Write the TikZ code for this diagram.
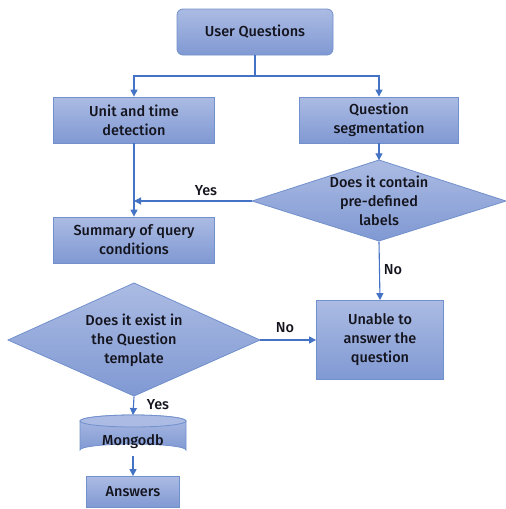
\documentclass[tikz,border=0pt]{standalone}
\usepackage{fontspec}
\setmainfont{Fira Sans}[UprightFont=* Medium]
\usetikzlibrary{arrows.meta,shapes.geometric}
\definecolor{ftop}{RGB}{171,187,227}
\definecolor{fbot}{RGB}{128,153,211}
\definecolor{bord}{RGB}{114,144,204}
\definecolor{lnk}{RGB}{68,114,196}
\definecolor{txt}{RGB}{20,20,30}
\tikzset{
  base/.style={draw=bord, line width=0.8pt, top color=ftop, bottom color=fbot, align=center, font=\fontsize{14.5}{19}\selectfont, text=txt, inner sep=0pt},
  boxx/.style={base, rectangle},
  conn/.style={draw=lnk, line width=1.1pt, -{Triangle[length=7pt,width=7pt]}},
  plain/.style={draw=lnk, line width=1.1pt},
  lab/.style={font=\fontsize{14.5}{16}\selectfont, text=txt},
  dtext/.style={align=center, font=\fontsize{14.5}{19}\selectfont, text=txt, inner sep=0pt}
}
\begin{document}
\begin{tikzpicture}[x=1pt,y=-1pt]
\useasboundingbox (0,0) rectangle (506,509);
\node[boxx, rounded corners=6pt, minimum width=156pt, minimum height=46pt] (uq) at (255,32) {User Questions};
\node[boxx, minimum width=161pt, minimum height=46pt] (ut) at (134,120) {Unit and time\\detection};
\node[boxx, minimum width=159pt, minimum height=46pt] (qs) at (379,120) {Question\\segmentation};
\path[base] (252,201) -- (379,160) -- (506,201) -- (379,241) -- cycle;
\node[dtext, minimum width=254pt, minimum height=81pt] (d1) at (379,201) {Does it contain\\pre-defined\\labels};
\node[boxx, minimum width=161pt, minimum height=46pt] (sq) at (134,240) {Summary of query\\conditions};
\path[base] (8,340) -- (134,283) -- (260,340) -- (134,396) -- cycle;
\node[dtext, minimum width=252pt, minimum height=113pt] (d2) at (134,340) {Does it exist in\\the Question\\template};
\node[boxx, minimum width=127pt, minimum height=79pt] (un) at (380,340) {Unable to\\answer the\\question};
% cylinder
\path[base] (80,421) -- (80,450) arc[start angle=180, end angle=360, x radius=53, y radius=6] -- (186,421) arc[start angle=0, end angle=-180, x radius=53, y radius=6] -- cycle;
\path[draw=bord, line width=0.8pt, fill=ftop] (133,421) ellipse[x radius=53, y radius=6];
\node[dtext, minimum width=106pt, minimum height=30pt] (mg) at (133,442) {Mongodb};
\node[boxx, minimum width=93pt, minimum height=31pt] (an) at (133,492) {Answers};
% connectors
\coordinate (j) at (255,76);
\draw[plain] (uq.south) -- (j);
\draw[conn] (j) -| (ut.north);
\draw[conn] (j) -| (qs.north);
\draw[conn] (qs.south) -- (d1.north);
\draw[conn] (ut.south) -- (sq.north);
\coordinate (yj) at (134,201);
\draw[conn] (d1.west) -- (yj);
\node[lab] at (206,191) {Yes};
\draw[conn] (d1.south) -- (un.north);
\node[lab] at (393,270) {No};
\draw[conn] (d2.east) -- (un.west);
\node[lab] at (285,328) {No};
\draw[conn] (d2.south) -- (133,415);
\node[lab] at (158,405) {Yes};
\draw[conn] (133,456) -- (an.north);
\end{tikzpicture}
\end{document}
